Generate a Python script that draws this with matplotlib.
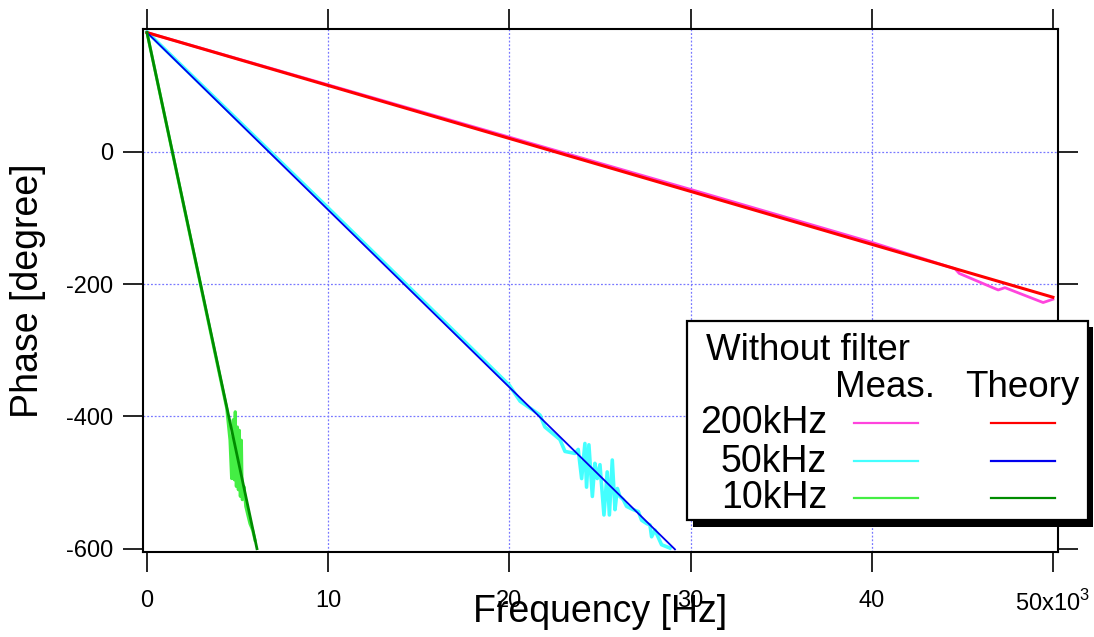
import matplotlib
matplotlib.use("Agg")
import matplotlib.pyplot as plt
from matplotlib.lines import Line2D
from matplotlib.patches import Rectangle

plt.rcParams["font.family"] = ["Liberation Sans", "DejaVu Sans"]
plt.rcParams["mathtext.fontset"] = "custom"
plt.rcParams["mathtext.rm"] = "Liberation Sans"
plt.rcParams["axes.unicode_minus"] = False

# --- data (frequency in Hz, phase in degree) ---
theory_200k_f = [0, 50000]
theory_200k_p = [180, -220]
theory_50k_f = [0, 29140]
theory_50k_p = [180, -601]
theory_10k_f = [0, 6070]
theory_10k_p = [180, -600]

meas_200k_f = [0, 10000, 20000, 30000, 40000, 44600, 44830, 46980, 47350, 49460, 50000]
meas_200k_p = [180, 101, 22, -57, -137, -177, -184, -209, -205.5, -228, -223]

meas_50k_f = [0, 10000, 20000, 20590, 21690, 21960, 22790, 23070, 23620, 23800, 23990,
              24170, 24260, 24390, 24580, 24720, 24850, 25000, 25220, 25400, 25520,
              25680, 25830, 25960, 26100, 26290, 26470, 26840, 27120, 27300, 27580,
              27760, 27850, 28040, 28400, 28860]
meas_50k_p = [181, -85, -353, -377, -398, -416, -435, -453, -456, -450, -494,
              -441, -507, -443, -521, -471, -494, -473, -549, -484, -549,
              -466, -541, -509, -521, -526, -536, -541, -544, -557, -562,
              -564, -582, -572, -594, -599]

meas_10k_f = [0, 4400, 4580, 4670, 4760, 4820, 4870, 4930, 4990, 5040, 5100, 5150,
              5210, 5260, 5350, 5450, 5590, 5680, 5830, 5960]
meas_10k_p = [180, -388, -436, -494, -405, -496, -393, -506, -416, -511, -421, -521,
              -436, -526, -506, -536, -552, -562, -572, -587]

xticks = [0, 10000, 20000, 30000, 40000, 50000]
xtick_labels = ["0", "10", "20", "30", "40", "50x10$^{3}$"]
yticks = [0, -200, -400, -600]
xgrid = [10000, 20000, 30000, 40000]
ygrid = [0, -200, -400]

rows = ["200kHz", "50kHz", "10kHz"]
meas_colors = ["#ff44dd", "#44ffff", "#44ee44"]
theory_colors = ["#ff0000", "#0000ee", "#008c00"]

W, H = 1094, 637
fig = plt.figure(figsize=(W / 100, H / 100), dpi=100)
ax = fig.add_axes([143 / W, 1 - 552 / H, (1058 - 143) / W, (552 - 29) / H])

for xv in xgrid:
    ax.axvline(xv, color="#7878ff", lw=0.9, dashes=(1.5, 1.5), zorder=0)
for yv in ygrid:
    ax.axhline(yv, color="#7878ff", lw=0.9, dashes=(1.5, 1.5), zorder=0)

ax.plot(meas_200k_f, meas_200k_p, color=meas_colors[0], lw=2.0)
ax.plot(meas_50k_f, meas_50k_p, color=meas_colors[1], lw=2.6)
ax.plot(meas_10k_f, meas_10k_p, color=meas_colors[2], lw=2.2)
ax.plot(theory_200k_f, theory_200k_p, color=theory_colors[0], lw=2.2)
ax.plot(theory_50k_f, theory_50k_p, color=theory_colors[1], lw=1.3)
ax.plot(theory_10k_f, theory_10k_p, color=theory_colors[2], lw=2.0)

ax.set_xlim(-220, 50280)
ax.set_ylim(-605, 185.4)
ax.set_xticks(xticks)
ax.set_xticklabels(xtick_labels)
ax.set_yticks(yticks)
for s in ax.spines.values():
    s.set_linewidth(1.5)
ax.tick_params(direction="out", length=14.4, width=1.2, top=True, right=True,
               labelsize=17)
ax.tick_params(axis="x", pad=13)
ax.tick_params(axis="y", pad=7)

ax.set_xlabel("Frequency [Hz]", fontsize=27)
ax.xaxis.set_label_coords(0.5, -0.08)
ax.set_ylabel("Phase [degree]", fontsize=27)
ax.yaxis.set_label_coords(-0.106, 0.5)


# --- legend box drawn in figure pixels ---
def fx(px):
    return px / W


def fy(py):
    return 1 - py / H


fig.add_artist(Rectangle((fx(693), fy(527)), fx(1093) - fx(693), fy(327) - fy(527),
                         facecolor="black", edgecolor="none", zorder=5))
fig.add_artist(Rectangle((fx(687), fy(520)), fx(1088) - fx(687), fy(321) - fy(520),
                         facecolor="white", edgecolor="black", lw=1.6, zorder=6))

fig.text(fx(706), fy(360), "Without filter", fontsize=26.5, va="baseline", zorder=7)
fig.text(fx(835), fy(397), "Meas.", fontsize=26.5, va="baseline", zorder=7)
fig.text(fx(965), fy(397), "Theory", fontsize=26.5, va="baseline", zorder=7)
for i, name in enumerate(rows):
    base = [433, 472, 508][i]
    ly = [423, 461, 498][i]
    fig.text(fx(827), fy(base), name, fontsize=27, ha="right", va="baseline", zorder=7)
    fig.add_artist(Line2D([fx(854), fx(918)], [fy(ly), fy(ly)], color=meas_colors[i],
                          lw=1.6, zorder=7))
    fig.add_artist(Line2D([fx(991), fx(1055)], [fy(ly), fy(ly)], color=theory_colors[i],
                          lw=1.6, zorder=7))

fig.savefig("out.png", dpi=100)
